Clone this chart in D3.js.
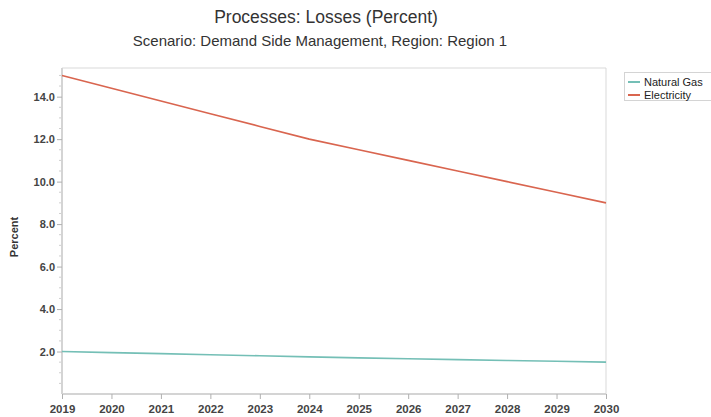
<!DOCTYPE html>
<html>
<head>
<meta charset="utf-8">
<script src="https://cdn.jsdelivr.net/npm/d3@7"></script>
<style>
  body { margin: 0; background: #fff; }
  text { font-family: "Liberation Sans", Arial, sans-serif; }
</style>
</head>
<body>
<script>
// data
var years = [2019, 2020, 2021, 2022, 2023, 2024, 2025, 2026, 2027, 2028, 2029, 2030];
var naturalGas = [2.0, 1.95, 1.9, 1.85, 1.8, 1.75, 1.7, 1.66, 1.62, 1.58, 1.54, 1.5];
var electricity = [15.0, 14.4, 13.8, 13.2, 12.6, 12.0, 11.5, 11.0, 10.5, 10.0, 9.5, 9.0];
var seriesNames = ['Natural Gas', 'Electricity'];
var seriesColors = ['#74bfb6', '#d9654f'];
var yTicks = [2, 4, 6, 8, 10, 12, 14];

var W = 711, H = 417;
var margin = {top: 68, right: 105, bottom: 23, left: 62};
var w = W - margin.left - margin.right;
var h = H - margin.top - margin.bottom;

var svg = d3.select('body').append('svg')
            .attr('width', W)
            .attr('height', H);

var xScale = d3.scaleLinear().domain([2019, 2030]).range([0, w]);
var yScale = d3.scaleLinear().domain([0, 15.35]).range([h, 0]);

var focus = svg.append('g')
               .attr('transform', 'translate(' + margin.left + ',' + margin.top + ')');

// frame (top + right)
focus.append('path')
     .attr('d', 'M0,0H' + w + 'V' + h)
     .attr('fill', 'none')
     .attr('stroke', '#d9d9d9')
     .attr('stroke-width', 1);

// minor y ticks
var minor = d3.range(0.5, 15.1, 0.5).filter(function(v) { return v % 2 !== 0; });
focus.selectAll('.minor')
     .data(minor)
     .enter().append('line')
     .attr('class', 'minor')
     .attr('x1', -3).attr('x2', 0)
     .attr('y1', function(d) { return yScale(d); })
     .attr('y2', function(d) { return yScale(d); })
     .attr('stroke', '#cfcfcf');

// y axis
var yAxis = d3.axisLeft(yScale).tickValues(yTicks).tickFormat(d3.format('.1f'))
              .tickSize(5).tickPadding(2);
var gy = focus.append('g').attr('class', 'axis axis--y').call(yAxis);
gy.select('.domain').attr('stroke', '#d4d4d4').attr('stroke-width', 2)
  .attr('d', 'M0,0V' + h);
gy.selectAll('.tick line').attr('stroke', '#b0b0b0');
gy.selectAll('.tick text').attr('fill', '#444').style('font-size', '11px').style('font-weight', 'bold');

// x axis
var xAxis = d3.axisBottom(xScale).tickValues(years).tickFormat(d3.format('d'))
              .tickSize(5).tickPadding(6);
var gx = focus.append('g').attr('class', 'axis axis--x')
              .attr('transform', 'translate(0,' + h + ')')
              .call(xAxis);
gx.select('.domain').attr('stroke', '#d4d4d4').attr('stroke-width', 2)
  .attr('d', 'M0,0H' + w);
gx.selectAll('.tick line').attr('stroke', '#b0b0b0');
gx.selectAll('.tick text').attr('fill', '#444').style('font-size', '11.5px').style('font-weight', 'bold');

// lines
var line = d3.line()
             .x(function(d, i) { return xScale(years[i]); })
             .y(function(d) { return yScale(d); });

[naturalGas, electricity].forEach(function(s, i) {
  focus.append('path')
       .datum(s)
       .attr('d', line)
       .attr('fill', 'none')
       .attr('stroke', seriesColors[i])
       .attr('stroke-width', 1.6);
});

// titles
svg.append('text')
   .attr('x', 326).attr('y', 23)
   .attr('text-anchor', 'middle')
   .attr('fill', '#333')
   .style('font-size', '17.5px')
   .text('Processes: Losses (Percent)');
svg.append('text')
   .attr('x', 320).attr('y', 46)
   .attr('text-anchor', 'middle')
   .attr('fill', '#333')
   .style('font-size', '15px')
   .text('Scenario: Demand Side Management, Region: Region 1');

// y label
svg.append('text')
   .attr('transform', 'translate(18,' + 237 + ')rotate(-90)')
   .attr('text-anchor', 'middle')
   .attr('fill', '#333')
   .style('font-size', '11px')
   .style('font-weight', 'bold')
   .text('Percent');

// legend
var legend = svg.append('g').attr('transform', 'translate(624,72)');
legend.append('rect')
      .attr('x', 0.5).attr('y', 0.5)
      .attr('width', 95).attr('height', 28)
      .attr('fill', '#fff')
      .attr('stroke', '#d4d4d4');
seriesNames.forEach(function(n, i) {
  var g = legend.append('g').attr('transform', 'translate(0,' + (10 + i * 13) + ')');
  g.append('line').attr('x1', 4).attr('x2', 16).attr('y1', 0).attr('y2', 0)
   .attr('stroke', seriesColors[i]).attr('stroke-width', 2);
  g.append('text').attr('x', 20).attr('y', 4)
   .attr('fill', '#222')
   .style('font-size', '11px')
   .text(n);
});
</script>
</body>
</html>
